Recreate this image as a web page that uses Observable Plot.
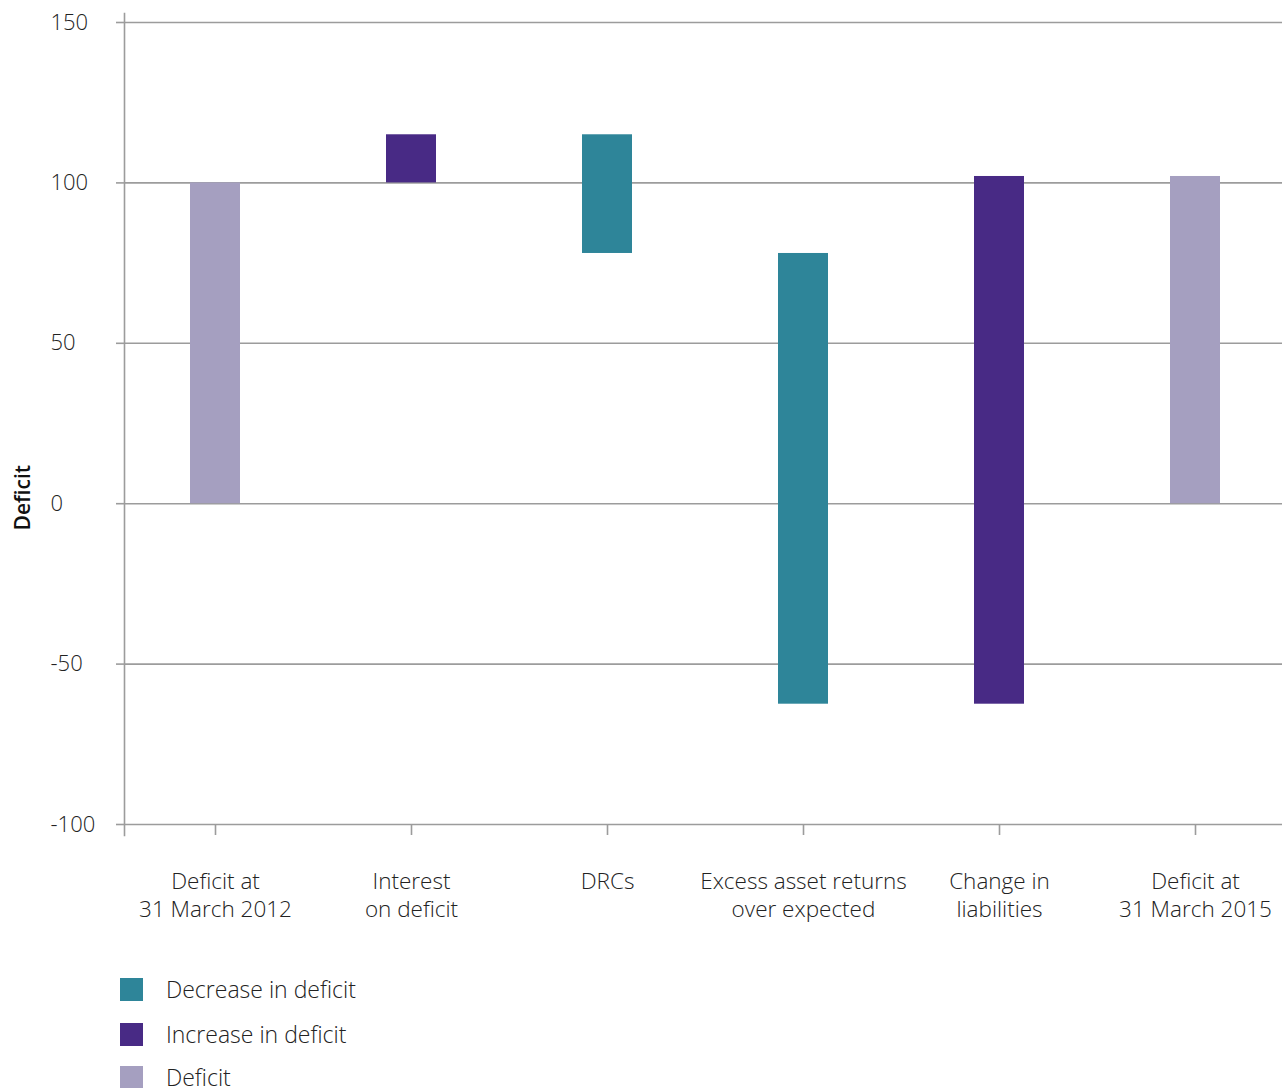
<!DOCTYPE html>
<html>
<head>
<meta charset="utf-8">
<script src="https://cdn.jsdelivr.net/npm/d3@7"></script>
<script src="https://cdn.jsdelivr.net/npm/@observablehq/plot@0.6"></script>
<style>
  html, body { margin: 0; padding: 0; background: #fff; }
  body { font-family: "Open Sans", Lato, sans-serif; color: #222; }
  #wrap { position: relative; width: 1282px; height: 1088px; overflow: hidden; }
  #chart { position: absolute; left: 0; top: 0; }
  .legend-item { position: absolute; left: 120px; display: flex; align-items: center; font-size: 23px; line-height: 23px; font-weight: 300; color: #222; }
  .legend-item .sw { width: 23px; height: 23px; margin-right: 23px; flex: none; }
</style>
</head>
<body>
<div id="wrap">
  <div id="chart"></div>
  <div id="legend"></div>
</div>
<script>
// Waterfall steps: category, where each bar starts and where it ends
const categories = [
  "Deficit at\n31 March 2012",
  "Interest\non deficit",
  "DRCs",
  "Excess asset returns\nover expected",
  "Change in\nliabilities",
  "Deficit at\n31 March 2015"
];
const barStart = [0, 100, 115, 78, -62.5, 0];
const barEnd = [100, 115, 78, -62.5, 102, 102];
const barType = ["Deficit", "Increase in deficit", "Decrease in deficit", "Decrease in deficit", "Increase in deficit", "Deficit"];

const yTicks = [150, 100, 50, 0, -50, -100];

const legendTypes = ["Decrease in deficit", "Increase in deficit", "Deficit"];
const legendColors = ["#2e8599", "#482a85", "#a59fc0"];

const bars = categories.map((c, i) => ({
  category: c,
  start: barStart[i],
  end: barEnd[i],
  type: barType[i]
}));

const gridColor = "#9c9c9c";
const font = "'Open Sans', Lato, sans-serif";

const chart = Plot.plot({
  width: 1282,
  height: 940,
  marginTop: 22,
  marginBottom: 116,
  marginLeft: 124,
  marginRight: 0,
  style: { fontFamily: font, fontSize: "22px", fontWeight: 300, color: "#222", background: "#fff" },
  x: {
    domain: categories,
    range: [117, 1293],
    paddingInner: 0.745,
    paddingOuter: 0.3725
  },
  y: { domain: [-100, 150] },
  color: { domain: legendTypes, range: legendColors },
  marks: [
    Plot.ruleY(yTicks, { stroke: gridColor, strokeWidth: 1.6 }),
    Plot.frame({ anchor: "left", stroke: gridColor, strokeWidth: 1.6, insetTop: -9, insetBottom: -11 }),
    Plot.barY(bars, {
      x: "category",
      y1: "start",
      y2: "end",
      fill: "type"
    }),
    Plot.axisY(yTicks, {
      tickSize: 8,
      tickPadding: 66,
      textAnchor: "start",
      stroke: gridColor,
      strokeWidth: 1.6,
      fill: "#222",
      fontSize: 22,
      tickFormat: d => String(d),
      label: null
    }),
    Plot.axisX({
      tickSize: 11,
      tickPadding: 33,
      stroke: gridColor,
      strokeWidth: 1.6,
      fill: "#222",
      fontSize: 22.5,
      lineHeight: 1.27,
      label: null
    }),
    Plot.text(["Deficit"], {
      y: () => 0,
      frameAnchor: "left",
      textAnchor: "middle",
      dx: -101,
      dy: -6,
      rotate: -90,
      fontSize: 21,
      fontWeight: 600,
      fill: "#111"
    })
  ]
});

document.getElementById("chart").appendChild(chart);

// Legend below the chart
const legend = document.getElementById("legend");
const legendTops = [978, 1023, 1066];
legendTypes.forEach((t, i) => {
  const item = document.createElement("div");
  item.className = "legend-item";
  item.style.top = legendTops[i] + "px";
  const sw = document.createElement("div");
  sw.className = "sw";
  sw.style.background = legendColors[i];
  const label = document.createElement("span");
  label.textContent = t;
  item.appendChild(sw);
  item.appendChild(label);
  legend.appendChild(item);
});
</script>
</body>
</html>
